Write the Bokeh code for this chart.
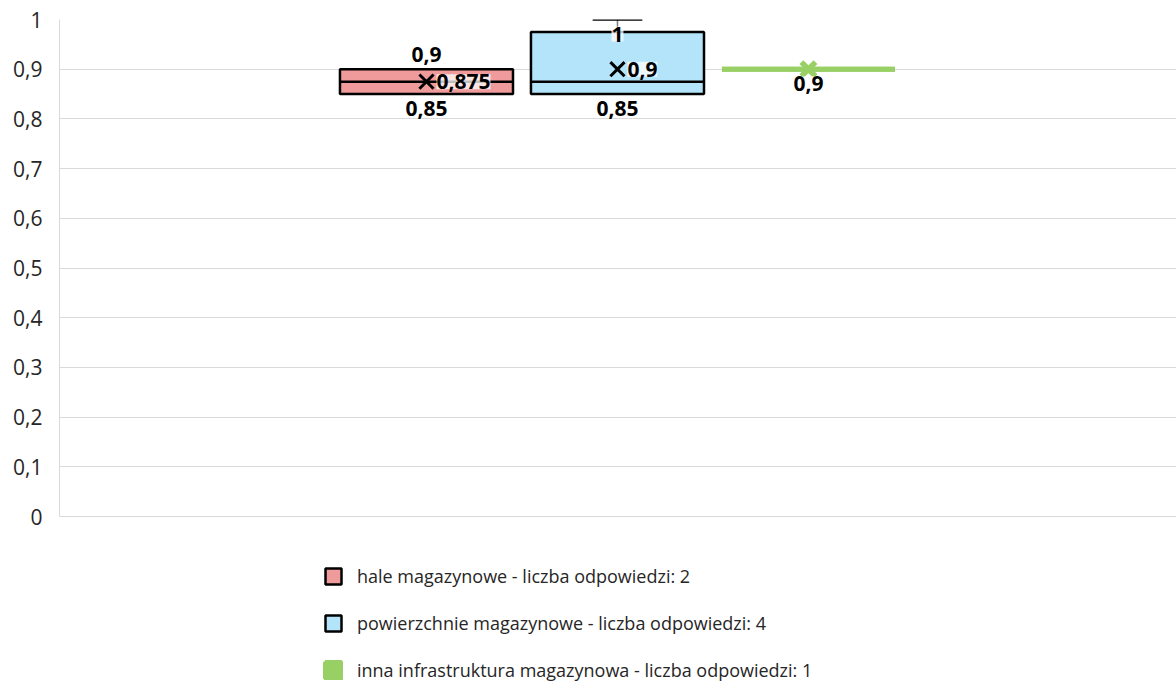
from bokeh.plotting import figure
from bokeh.models import Range1d, FixedTicker, CustomJSTickFormatter, Legend, LegendItem, ColumnDataSource
from bokeh.core.properties import value
from bokeh.embed import file_html
from bokeh.resources import INLINE

categories = [
    "hale magazynowe - liczba odpowiedzi: 2",
    "powierzchnie magazynowe - liczba odpowiedzi: 4",
    "inna infrastruktura magazynowa - liczba odpowiedzi: 1",
]
minima = [0.85, 0.85, 0.9]
q1 = [0.85, 0.85, 0.9]
medians = [0.875, 0.875, 0.9]
q3 = [0.9, 0.975, 0.9]
maxima = [0.9, 1.0, 0.9]
means = [0.875, 0.9, 0.9]
fills = ["#ef9b9b", "#b3e4fa", "#98d066"]
edges = ["#000000", "#000000", "#98d066"]
y_ticks = [0, 0.1, 0.2, 0.3, 0.4, 0.5, 0.6, 0.7, 0.8, 0.9, 1.0]

# data labels: series index, value shown, placement
label_series = [0, 0, 0, 1, 1, 1, 2]
label_values = [0.9, 0.85, 0.875, 1.0, 0.9, 0.85, 0.9]
label_place = ["above", "below", "right", "below", "right", "below", "below"]

FONT = "Open Sans"
xs = [i + 1 for i in range(len(categories))]
half = 0.453
cap_half = 0.13

# the frame reaches the bottom of the page so that the legend sits inside it;
# the value axis itself only spans 0..1
p = figure(width=1176, height=683, output_backend="svg", toolbar_location=None,
           x_range=Range1d(-0.9215, 4.927), y_range=Range1d(-0.336, 1),
           min_border_left=59, min_border_right=0, min_border_top=19, min_border_bottom=0)
p.outline_line_color = None
p.background_fill_color = "white"
p.xaxis.visible = False
p.xgrid.visible = False
p.ygrid.grid_line_color = "#d9d9d9"
p.ygrid.grid_line_width = 1
p.yaxis.ticker = FixedTicker(ticks=y_ticks)
p.yaxis.bounds = (0, 1)
p.yaxis.formatter = CustomJSTickFormatter(code="return String(Math.round(tick*10)/10).replace('.', ',');")
p.yaxis.axis_line_color = "#d9d9d9"
p.yaxis.major_tick_line_color = None
p.yaxis.minor_tick_line_color = None
p.yaxis.major_tick_out = 0
p.yaxis.major_tick_in = 0
p.yaxis.major_label_standoff = 17
p.yaxis.major_label_text_font = FONT
p.yaxis.major_label_text_font_size = "21px"
p.yaxis.major_label_text_color = "#262626"

src = ColumnDataSource(dict(
    x=xs, left=[x - half for x in xs], right=[x + half for x in xs],
    q1=q1, q3=q3, med=medians, mean=means, fill=fills, edge=edges,
    lw=[2.5, 2.5, 5], mlw=[3, 3, 5.5],
))
boxes = p.quad(left="left", right="right", bottom="q1", top="q3", fill_color="fill",
               line_color="edge", line_width="lw", source=src)
p.segment(x0="left", x1="right", y0="med", y1="med", line_color="edge", line_width="lw", source=src)

# whiskers
wx = [xs[i] for i in range(len(xs)) if maxima[i] > q3[i]]
w0 = [q3[i] for i in range(len(xs)) if maxima[i] > q3[i]]
w1 = [maxima[i] for i in range(len(xs)) if maxima[i] > q3[i]]
p.segment(x0=wx, x1=wx, y0=w0, y1=w1, line_color="#7f7f7f", line_width=1.5)
p.segment(x0=[x - cap_half for x in wx], x1=[x + cap_half for x in wx], y0=w1, y1=w1,
          line_color="#000000", line_width=2.5)
lx = [xs[i] for i in range(len(xs)) if minima[i] < q1[i]]
l0 = [q1[i] for i in range(len(xs)) if minima[i] < q1[i]]
l1 = [minima[i] for i in range(len(xs)) if minima[i] < q1[i]]
if lx:
    p.segment(x0=lx, x1=lx, y0=l0, y1=l1, line_color="#7f7f7f", line_width=1.5)

p.scatter(x="x", y="mean", marker="x", size=20, line_color="edge", line_width="mlw", source=src)

def fmt(v):
    s = ("%.3f" % v).rstrip("0").rstrip(".")
    return s.replace(".", ",")

groups = {
    "above": dict(text_align="center", text_baseline="bottom", x_off=0, y_off=-7),
    "below": dict(text_align="center", text_baseline="top", x_off=0, y_off=7),
    "right": dict(text_align="left", text_baseline="middle", x_off=10, y_off=0),
}
for place, cfg in groups.items():
    idx = [k for k in range(len(label_values)) if label_place[k] == place]
    if not idx:
        continue
    ls = ColumnDataSource(dict(
        x=[xs[label_series[k]] for k in idx],
        y=[label_values[k] for k in idx],
        t=[fmt(label_values[k]) for k in idx],
    ))
    p.text(x="x", y="y", text="t", source=ls, text_font=value(FONT), text_font_size="21px",
           text_font_style="bold", text_color="#000000", text_align=cfg["text_align"],
           text_baseline=cfg["text_baseline"], x_offset=cfg["x_off"], y_offset=cfg["y_off"],
           background_fill_color="white", background_fill_alpha=0.75)

legend = Legend(items=[LegendItem(label=categories[i], renderers=[boxes], index=i) for i in range(len(categories))],
                location=(264, 1), orientation="vertical", padding=0, margin=0,
                border_line_color=None, background_fill_alpha=0,
                glyph_width=20, glyph_height=20, label_standoff=14, spacing=23,
                label_text_font=FONT, label_text_font_size="18px", label_text_color="#262626")
p.add_layout(legend, "center")

open("out.html", "w").write(file_html(p, INLINE))
